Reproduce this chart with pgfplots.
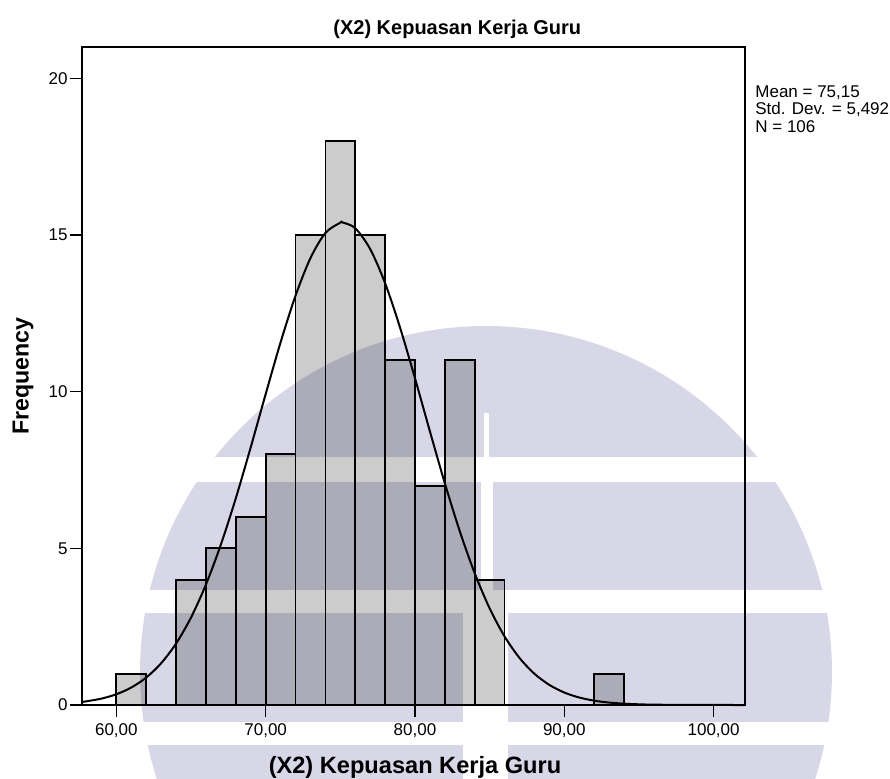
\documentclass[border=0pt]{standalone}
\usepackage{fontspec}
\setmainfont{Liberation Sans}
\usepackage{pgfplots}
\pgfplotsset{compat=1.18}

\definecolor{barfill}{RGB}{204,204,204}
\definecolor{logotint}{RGB}{216,215,232}

\begin{document}
\begin{tikzpicture}
% page frame: 890 x 778 units of 0.5pt
\path[use as bounding box] (0,0) rectangle (445pt,-389pt);

\begin{axis}[
  at={(41pt,-352.5pt)}, anchor=south west,
  scale only axis, width=331.5pt, height=329pt,
  xmin=57.7, xmax=102.1, ymin=0, ymax=21,
  axis line style={line width=0.6pt},
  xtick={60,70,80,90,100},
  xticklabels={{60,00},{70,00},{80,00},{90,00},{100,00}},
  ytick={0,5,10,15,20},
  tick align=outside, tick pos=left,
  major tick length=6pt,
  tick style={black, line width=0.6pt},
  ticklabel style={font=\fontsize{8.5}{10}\selectfont},
  yticklabel style={inner sep=1pt},
  /pgf/number format/assume math mode=true,
  clip=false,
]
% frequencies of the 2-point classes
\addplot[ybar interval, fill=barfill, draw=black, line width=0.85pt]
  coordinates {(60,1) (62,0) (64,4) (66,5) (68,6) (70,8) (72,15) (74,18)
               (76,15) (78,11) (80,7) (82,11) (84,4) (86,0) (88,0) (90,0)
               (92,1) (94,0)};
% fitted normal curve (mean 75.15, sd 5.492, N = 106, class width 2)
\addplot[smooth, black, line width=1pt] coordinates {
  (57.7,0.099) (58,0.118) (59,0.204) (60,0.343) (61,0.557) (62,0.876)
  (63,1.333) (64,1.961) (65,2.791) (66,3.844) (67,5.121) (68,6.599)
  (69,8.227) (70,9.922) (71,11.576) (72,13.064) (73,14.264) (74,15.066)
  (75,15.394) (75.15,15.400) (76,15.217) (77,14.551) (78,13.460) (79,12.045)
  (80,10.427) (81,8.733) (82,7.075) (83,5.545) (84,4.204) (85,3.083)
  (86,2.188) (87,1.502) (88,0.997) (89,0.641) (90,0.398) (91,0.239)
  (92,0.139) (93,0.078) (94,0.043) (95,0.022) (96,0.011) (98,0.003)
  (100,0.001) (102.1,0.000)};
\end{axis}

\begin{scope}[x=0.5pt, y=-0.5pt]
  % titles and statistics
  \node[anchor=base west, inner sep=0, font=\bfseries\fontsize{10}{12}\selectfont]
    at (333,34) {(X2) Kepuasan Kerja Guru};
  \node[anchor=base, inner sep=0, font=\bfseries\fontsize{11.8}{14}\selectfont]
    at (415,773) {(X2) Kepuasan Kerja Guru};
  \node[rotate=90, inner sep=0, font=\bfseries\fontsize{11.6}{14}\selectfont]
    at (23,376) {Frequency};
  \node[anchor=base west, inner sep=0, font=\fontsize{8.5}{10}\selectfont]
    at (755,97) {Mean = 75,15};
  \node[anchor=base west, inner sep=0, font=\fontsize{8.5}{10}\selectfont]
    at (755,114.5) {Std. Dev. = 5,492};
  \node[anchor=base west, inner sep=0, font=\fontsize{8.5}{10}\selectfont]
    at (755,132) {N = 106};

  % background logo, printed through
  \begin{scope}[blend mode=multiply]
    \clip (486,672) circle [radius=173pt];
    \fill[logotint] (0,300) rectangle (890,413);
    \fill[logotint] (0,413) rectangle (484,457);
    \fill[logotint] (489,413) rectangle (890,457);
    \fill[logotint] (0,482) rectangle (481,590);
    \fill[logotint] (493,482) rectangle (890,590);
    \fill[logotint] (0,613) rectangle (463,722);
    \fill[logotint] (508,613) rectangle (890,722);
    \fill[logotint] (0,745) rectangle (463,800);
    \fill[logotint] (508,745) rectangle (890,800);
  \end{scope}
\end{scope}
\end{tikzpicture}
\end{document}
